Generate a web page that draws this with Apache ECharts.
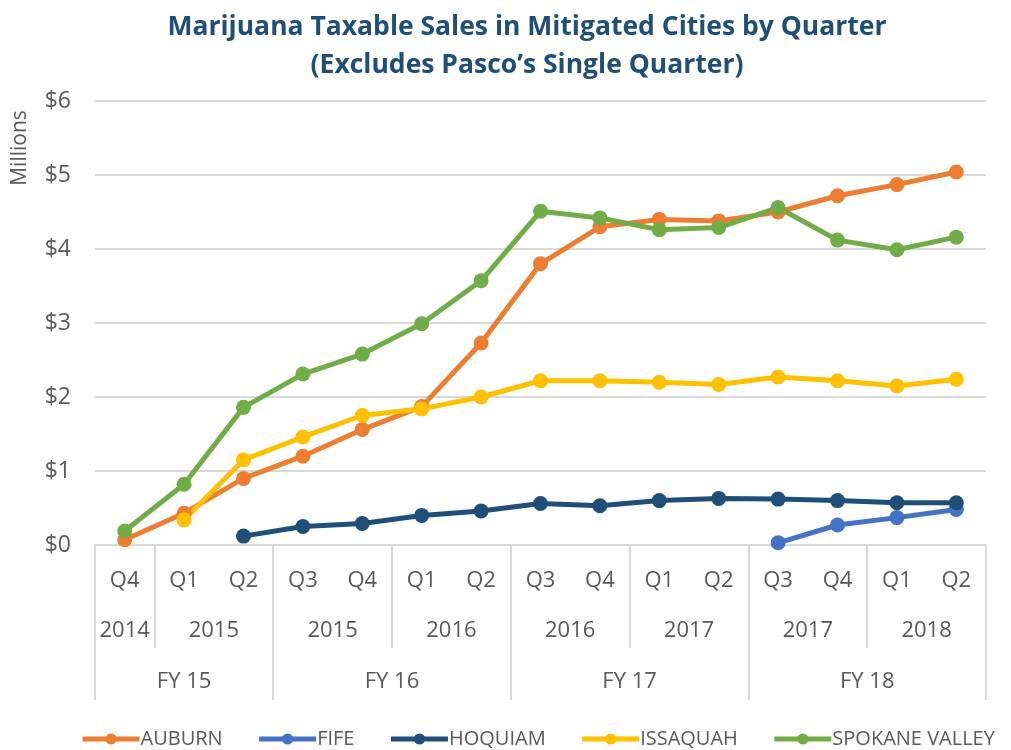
<!DOCTYPE html>
<html>
<head>
<meta charset="utf-8">
<script src="https://cdn.jsdelivr.net/npm/echarts@6/dist/echarts.min.js"></script>
<style>html,body{margin:0;padding:0;background:#fff}#c{width:1011px;height:750px}</style>
</head>
<body>
<div id="c"></div>
<script>
const quarters = ['Q4','Q1','Q2','Q3','Q4','Q1','Q2','Q3','Q4','Q1','Q2','Q3','Q4','Q1','Q2'];
const yearLabels = ['2014','2015','2015','2016','2016','2017','2017','2018'];
const yearSizes = [1,2,2,2,2,2,2,2];
const fyLabels = ['FY 15','FY 16','FY 17','FY 18'];
const fySizes = [3,4,4,4];
const yTicks = [0,1,2,3,4,5,6];

const auburn   = [0.07,0.43,0.90,1.20,1.56,1.87,2.73,3.80,4.30,4.40,4.38,4.50,4.72,4.87,5.04];
const fife     = [null,null,null,null,null,null,null,null,null,null,null,0.03,0.27,0.37,0.48];
const hoquiam  = [null,null,0.12,0.25,0.29,0.40,0.46,0.56,0.53,0.60,0.63,0.62,0.60,0.57,0.57];
const issaquah = [null,0.34,1.15,1.46,1.75,1.84,2.00,2.22,2.22,2.20,2.17,2.27,2.22,2.15,2.24];
const spokane  = [0.19,0.82,1.86,2.31,2.58,2.99,3.57,4.51,4.42,4.26,4.29,4.56,4.12,3.99,4.16];

function groups(sizes, labels) {
  const bounds = [], centers = [], map = {};
  let start = -0.5;
  bounds.push(start);
  sizes.forEach((s, i) => {
    const c = start + s / 2;
    centers.push(c);
    map[c.toFixed(2)] = labels[i];
    start += s;
    bounds.push(start);
  });
  return {bounds, centers, map};
}
const yg = groups(yearSizes, yearLabels);
const fg = groups(fySizes, fyLabels);

const font = 'Open Sans';
const gray = '#595959';
const gridColor = '#d9d9d9';

const chart = echarts.init(document.getElementById('c'));
const mk = (name, data, color) => ({
  name, type: 'line', data, xAxisIndex: 0,
  symbol: 'circle', symbolSize: 15,
  lineStyle: {width: 5, color},
  itemStyle: {color},
  connectNulls: false,
  z: 3
});

chart.setOption({
  animation: false,
  title: {
    text: 'Marijuana Taxable Sales in Mitigated Cities by Quarter\n(Excludes Pasco’s Single Quarter)',
    left: 522, top: 3, textAlign: 'center',
    textStyle: {fontFamily: font, fontWeight: 'bold', fontSize: 26.5, color: '#1F4E79', lineHeight: 38}
  },
  graphic: [{
    type: 'text', x: 20, y: 148, rotation: Math.PI / 2,
    style: {text: 'Millions', fontFamily: font, fontSize: 21, fill: gray, textAlign: 'center', textVerticalAlign: 'middle'}
  }],
  legend: {
    top: 729, left: 80, right: 0, padding: 0,
    itemWidth: 57, itemHeight: 14, itemGap: 34,
    lineStyle: {width: 5},
    textStyle: {fontFamily: font, fontSize: 20, color: gray, padding: [0, 0, 0, -4]},
    data: ['AUBURN','FIFE','HOQUIAM','ISSAQUAH','SPOKANE VALLEY']
  },
  grid: {left: 95, right: 25, top: 101, bottom: 205},
  xAxis: [
    {
      type: 'category', data: quarters, position: 'bottom', boundaryGap: true,
      axisLine: {show: true, lineStyle: {color: gridColor, width: 2}},
      axisTick: {show: false},
      axisLabel: {margin: 25, fontFamily: font, fontSize: 22, color: gray, interval: 0}
    },
    {
      type: 'value', min: -0.5, max: 14.5, position: 'bottom',
      splitLine: {show: false},
      axisLine: {show: false},
      axisTick: {show: true, customValues: yg.bounds.slice(1, -1), length: 103, lineStyle: {color: gridColor, width: 2}},
      axisLabel: {customValues: yg.centers, margin: 75, fontFamily: font, fontSize: 22, color: gray,
        formatter: v => yg.map[v.toFixed(2)] || ''}
    },
    {
      type: 'value', min: -0.5, max: 14.5, position: 'bottom',
      splitLine: {show: false},
      axisLine: {show: false},
      axisTick: {show: true, customValues: fg.bounds, length: 155, lineStyle: {color: gridColor, width: 2}},
      axisLabel: {customValues: fg.centers, margin: 126, fontFamily: font, fontSize: 22, color: gray,
        formatter: v => fg.map[v.toFixed(2)] || ''}
    }
  ],
  yAxis: {
    type: 'value', min: yTicks[0], max: yTicks[yTicks.length - 1], interval: 1,
    axisLine: {show: false}, axisTick: {show: false},
    splitLine: {lineStyle: {color: gridColor, width: 2}},
    axisLabel: {margin: 24, fontFamily: font, fontSize: 23, color: gray, formatter: v => '$' + v}
  },
  series: [
    mk('AUBURN', auburn, '#ED7D31'),
    mk('FIFE', fife, '#4472C4'),
    mk('HOQUIAM', hoquiam, '#1F4E79'),
    mk('ISSAQUAH', issaquah, '#FFC000'),
    mk('SPOKANE VALLEY', spokane, '#70AD47')
  ]
});
</script>
</body>
</html>
